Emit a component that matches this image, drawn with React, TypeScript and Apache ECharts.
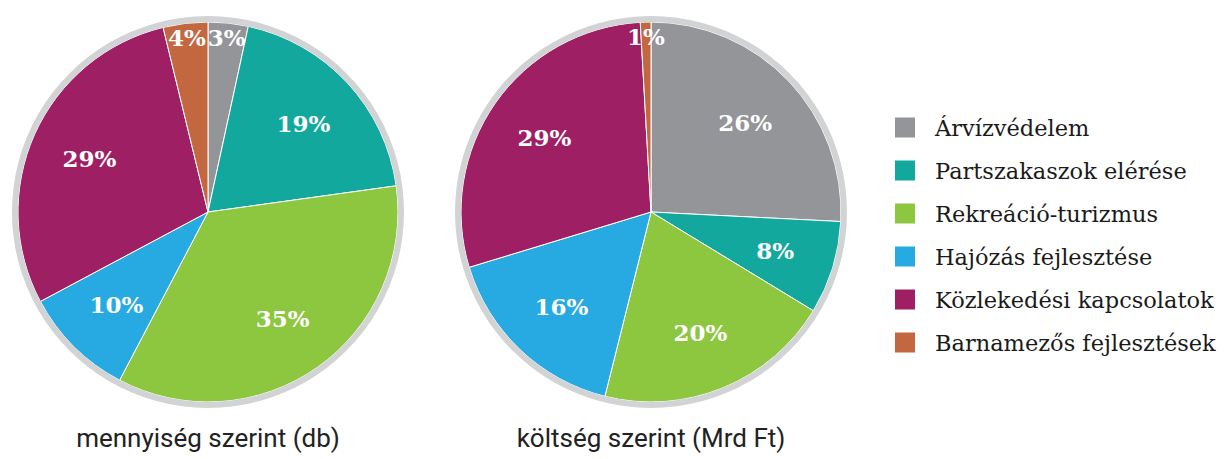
import React, { useEffect, useRef } from "react";
import * as echarts from "echarts";

const categories = [
  "Árvízvédelem",
  "Partszakaszok elérése",
  "Rekreáció-turizmus",
  "Hajózás fejlesztése",
  "Közlekedési kapcsolatok",
  "Barnamezős fejlesztések",
];
const colors = ["#939598", "#13a89e", "#8dc63f", "#27aae1", "#9e1f63", "#c2673f"];
// shares (percent)
const countShares = [3.4, 19.4, 34.9, 9.5, 29.0, 3.8];
const costShares = [25.8, 7.9, 20.2, 16.4, 28.8, 0.9];
const captions = ["mennyiség szerint (db)", "költség szerint (Mrd Ft)"];

const SMALL = 5;

function buildPie(values: number[], center: [number, number]) {
  const total = values.reduce((a, b) => a + b, 0);
  const base = values.map((v, i) => ({
    name: categories[i],
    value: v,
    itemStyle: { color: colors[i] },
  }));
  const labelFmt = (p: any) => Math.round(p.percent) + "%";
  const labelStyle = {
    color: "#ffffff",
    fontFamily: "DejaVu Serif",
    fontWeight: "bold" as const,
    fontSize: 23,
  };
  const transparent = { color: "rgba(0,0,0,0)", borderWidth: 0 };
  return [
    {
      type: "pie",
      center,
      radius: [0, 190],
      startAngle: 90,
      clockwise: true,
      avoidLabelOverlap: false,
      silent: true,
      data: base,
      itemStyle: { borderColor: "#ffffff", borderWidth: 1 },
      label: { show: false },
      labelLine: { show: false },
      emphasis: { disabled: true },
      z: 1,
    },
    {
      type: "pie",
      center,
      radius: [190, 196],
      silent: true,
      data: [{ name: "_ring", value: 1, itemStyle: { color: "#d1d3d4", borderWidth: 0 } }],
      label: { show: false },
      labelLine: { show: false },
      emphasis: { disabled: true },
      z: 2,
    },
    {
      type: "pie",
      center,
      radius: [64, 190],
      startAngle: 90,
      silent: true,
      avoidLabelOverlap: false,
      data: values.map((v, i) => ({
        name: categories[i],
        value: v,
        itemStyle: transparent,
        label: { show: (v / total) * 100 >= SMALL },
      })),
      label: { position: "inside", formatter: labelFmt, ...labelStyle },
      labelLine: { show: false },
      emphasis: { disabled: true },
      z: 3,
    },
    {
      type: "pie",
      center,
      radius: [156, 190],
      startAngle: 90,
      silent: true,
      avoidLabelOverlap: false,
      data: values.map((v, i) => ({
        name: categories[i],
        value: v,
        itemStyle: transparent,
        label: { show: (v / total) * 100 < SMALL },
      })),
      label: { position: "inside", formatter: labelFmt, ...labelStyle },
      labelLine: { show: false },
      emphasis: { disabled: true },
      z: 3,
    },
  ];
}

export default function App() {
  const ref = useRef<HTMLDivElement>(null);
  useEffect(() => {
    if (!ref.current) return;
    const chart = echarts.init(ref.current, undefined, { renderer: "svg" });
    const centers: [number, number][] = [
      [208, 212],
      [651, 212],
    ];
    chart.setOption({
      animation: false,
      backgroundColor: "#ffffff",
      legend: {
        orient: "vertical",
        left: 890,
        top: 111,
        data: categories,
        icon: "rect",
        itemWidth: 20,
        itemHeight: 20,
        itemGap: 20,
        selectedMode: false,
        itemStyle: { borderWidth: 0 },
        textStyle: {
          fontFamily: "DejaVu Serif",
          fontSize: 22.5,
          color: "#1a1a1a",
          padding: [0, 0, 0, 15],
        },
      },
      graphic: captions.map((c, i) => ({
        type: "text",
        x: centers[i][0],
        y: 438,
        style: {
          text: c,
          fill: "#222222",
          font: '26px "Roboto"',
          textAlign: "center",
          textVerticalAlign: "middle",
        },
      })),
      series: [...buildPie(countShares, centers[0]), ...buildPie(costShares, centers[1])],
    });
    return () => chart.dispose();
  }, []);
  return (
    <div
      ref={ref}
      style={{ position: "absolute", left: 0, top: 0, width: 1226, height: 459 }}
    />
  );
}
